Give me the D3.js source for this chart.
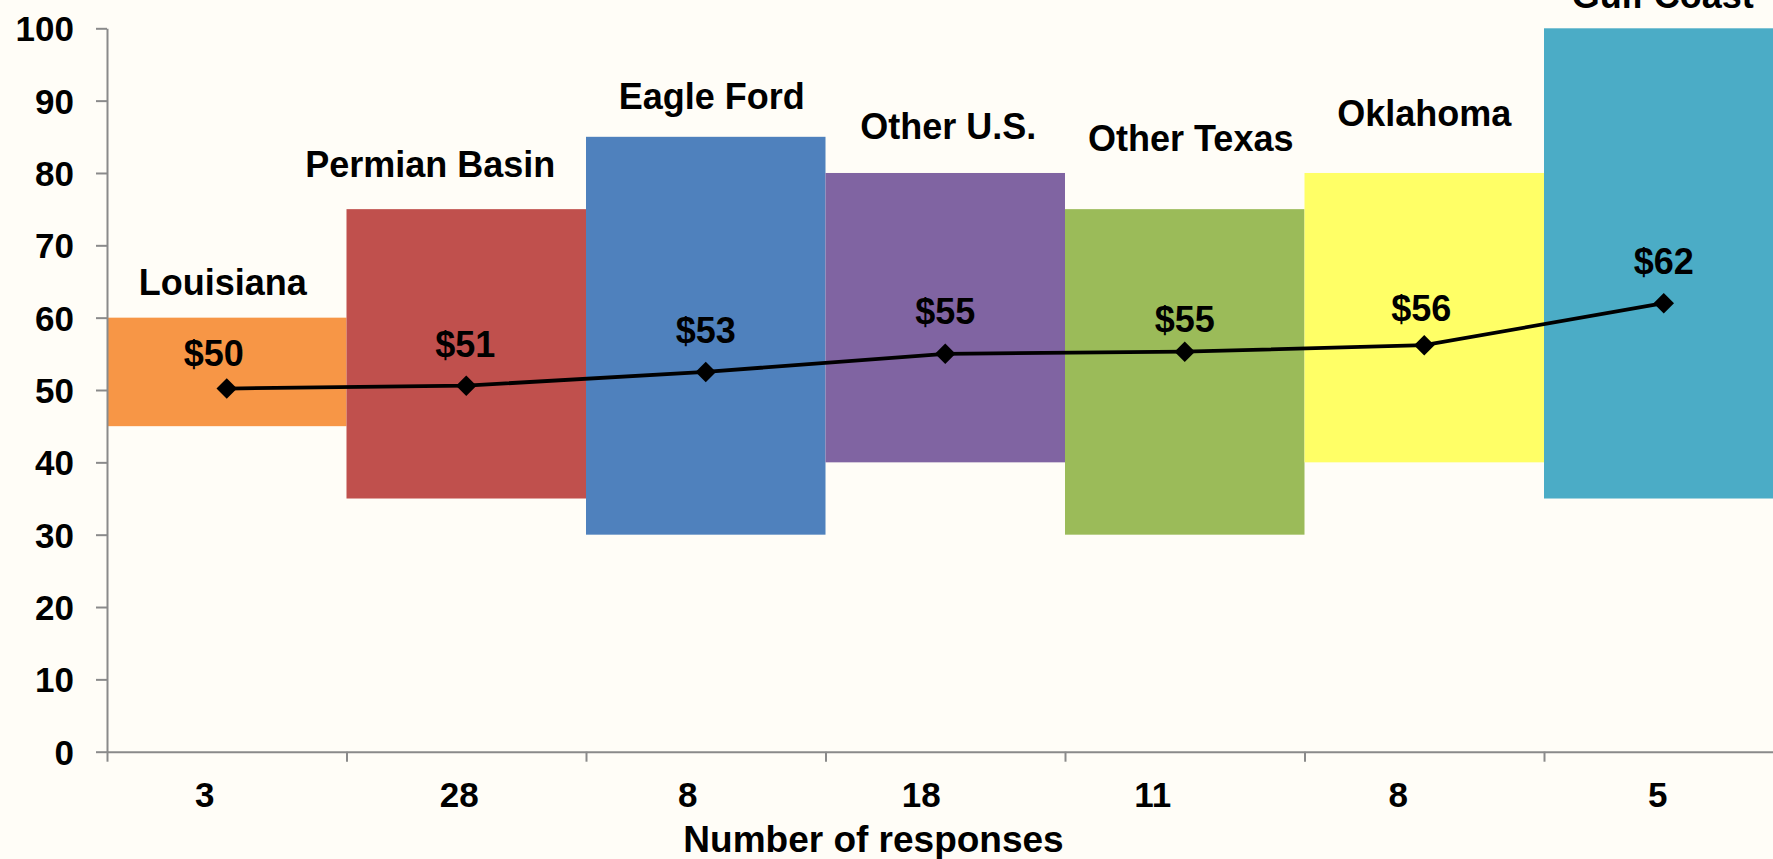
<!DOCTYPE html>
<html>
<head>
<meta charset="utf-8">
<script src="https://cdn.jsdelivr.net/npm/d3@7/dist/d3.min.js"></script>
<style>
  html, body { margin: 0; padding: 0; background: #FFFDF7; overflow: hidden; }
  svg { display: block; }
  text { font-family: "Liberation Sans", Arial, sans-serif; font-weight: bold; fill: #000; }
</style>
</head>
<body>
<svg id="chart" width="1773" height="859"></svg>
<script>
// ---- data ----
const categories = ["Louisiana", "Permian Basin", "Eagle Ford", "Other U.S.", "Other Texas", "Oklahoma", "Gulf Coast"];
const responses = ["3", "28", "8", "18", "11", "8", "5"];
const rangeLow = [45, 35, 30, 40, 30, 40, 35];
const rangeHigh = [60, 75, 85, 80, 75, 80, 100];
const avgPrice = [50.2, 50.6, 52.5, 55.0, 55.3, 56.2, 62.0];
const priceLabels = ["$50", "$51", "$53", "$55", "$55", "$56", "$62"];
const yTicks = [0, 10, 20, 30, 40, 50, 60, 70, 80, 90, 100];

// ---- styling / layout ----
const colors = ["#F79646", "#C0504D", "#4F81BD", "#8064A2", "#9BBB59", "#FFFF66", "#4BACC6"];
const catLabelAt = [63.1, 79.5, 88.9, 84.7, 83.1, 86.5, 102.8]; // baseline, in axis units
const catLabelDx = [-4, -36, 6, 3, 6, 0, -1];
const priceLabelDx = [-13, -1, 0, 0, 0, -3, 0];
const priceLabelDy = [-23, -29, -29, -30, -20, -24, -29];
const tickLabelDx = [-22, -7, -18, -24, -32, -26, -6];

(function () {
const svg = d3.select("#chart");
svg.append("rect").attr("width", 1773).attr("height", 859).attr("fill", "#FFFDF7");

const plotLeft = 107, plotRight = 1783.5, plotTop = 28.3, plotBottom = 751.7;
const x = d3.scaleBand().domain(categories).range([plotLeft, plotRight]).padding(0);
const xEdge = d3.scaleLinear().domain([0, categories.length]).range([plotLeft, plotRight]);
const y = d3.scaleLinear().domain([0, 100]).range([plotBottom, plotTop]);

// floating range bars
svg.append("g").selectAll("rect").data(categories).join("rect")
  .attr("x", d => x(d))
  .attr("width", x.bandwidth())
  .attr("y", (d, i) => y(rangeHigh[i]))
  .attr("height", (d, i) => y(rangeLow[i]) - y(rangeHigh[i]))
  .attr("fill", (d, i) => colors[i]);

// y axis
const yAxis = svg.append("g").attr("transform", `translate(${plotLeft},0)`)
  .call(d3.axisLeft(y).tickValues(yTicks).tickSize(11).tickSizeOuter(0).tickPadding(22));
yAxis.selectAll("path, line").attr("stroke", "#8a8a8a").attr("stroke-width", 2);
yAxis.selectAll("text").attr("font-size", 35).attr("font-family", null).attr("fill", "#000").attr("dy", "0.36em");

// x axis
const xAxis = svg.append("g").attr("transform", `translate(0,${plotBottom})`)
  .call(d3.axisBottom(xEdge).tickValues(d3.range(0, categories.length + 1)).tickSize(10).tickSizeOuter(0).tickFormat(""));
xAxis.selectAll("path, line").attr("stroke", "#8a8a8a").attr("stroke-width", 2);

svg.append("g").selectAll("text").data(responses).join("text")
  .attr("x", (d, i) => x(categories[i]) + x.bandwidth() / 2 + tickLabelDx[i])
  .attr("y", plotBottom + 55)
  .attr("text-anchor", "middle")
  .attr("font-size", 35)
  .text(d => d);

svg.append("text")
  .attr("x", 873.5).attr("y", 852)
  .attr("text-anchor", "middle")
  .attr("font-size", 37)
  .text("Number of responses");

// category labels
svg.append("g").selectAll("text").data(categories).join("text")
  .attr("x", (d, i) => x(d) + x.bandwidth() / 2 + catLabelDx[i])
  .attr("y", (d, i) => y(catLabelAt[i]))
  .attr("text-anchor", "middle")
  .attr("font-size", 36)
  .text(d => d);

// average price line
const cx = i => x(categories[i]) + x.bandwidth() / 2;
const line = d3.line().x((d, i) => cx(i)).y(d => y(d));
svg.append("path").datum(avgPrice)
  .attr("d", line)
  .attr("fill", "none")
  .attr("stroke", "#000")
  .attr("stroke-width", 3.8);

svg.append("g").selectAll("path").data(avgPrice).join("path")
  .attr("d", d3.symbol().type(d3.symbolSquare).size(210))
  .attr("transform", (d, i) => `translate(${cx(i)},${y(d)}) rotate(45)`)
  .attr("fill", "#000");

svg.append("g").selectAll("text").data(priceLabels).join("text")
  .attr("x", (d, i) => cx(i) + priceLabelDx[i])
  .attr("y", (d, i) => y(avgPrice[i]) + priceLabelDy[i])
  .attr("text-anchor", "middle")
  .attr("font-size", 36)
  .text(d => d);
})();
</script>
</body>
</html>
